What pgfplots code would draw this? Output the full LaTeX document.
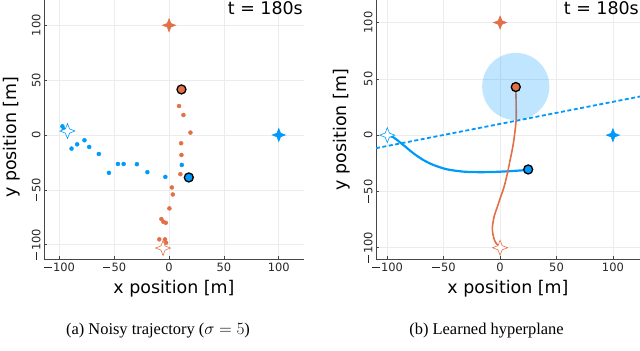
\documentclass[border=0pt]{standalone}
\usepackage{fontspec}
\setmainfont{DejaVu Sans}
\newfontfamily\capfont{Liberation Serif}
\usepackage{pgfplots}
\pgfplotsset{compat=1.18}

\definecolor{jblue}{RGB}{0,154,250}
\definecolor{jorange}{RGB}{227,111,71}
\definecolor{gridgray}{RGB}{236,236,236}
\definecolor{axgray}{RGB}{70,70,70}

% long minus drawn as a rule, so it does not depend on the font
\newcommand{\tmin}{\mbox{\hspace{0.06em}\rule[0.31em]{0.64em}{0.08em}\hspace{0.12em}}}

% four-pointed star (filled or hollow through fill colour)
\pgfdeclareplotmark{star4}{%
  \pgfpathmoveto{\pgfpoint{0pt}{\pgfplotmarksize}}%
  \pgfpathlineto{\pgfpoint{0.28\pgfplotmarksize}{0.28\pgfplotmarksize}}%
  \pgfpathlineto{\pgfpoint{\pgfplotmarksize}{0pt}}%
  \pgfpathlineto{\pgfpoint{0.28\pgfplotmarksize}{-0.28\pgfplotmarksize}}%
  \pgfpathlineto{\pgfpoint{0pt}{-\pgfplotmarksize}}%
  \pgfpathlineto{\pgfpoint{-0.28\pgfplotmarksize}{-0.28\pgfplotmarksize}}%
  \pgfpathlineto{\pgfpoint{-\pgfplotmarksize}{0pt}}%
  \pgfpathlineto{\pgfpoint{-0.28\pgfplotmarksize}{0.28\pgfplotmarksize}}%
  \pgfpathclose
  \pgfusepathqfillstroke}
% plain filled disc, no outline
\pgfdeclareplotmark{disc}{%
  \pgfpathcircle{\pgfpointorigin}{\pgfplotmarksize}%
  \pgfusepathqfill}

\pgfplotsset{
  trajplot/.style={
    scale only axis, height=259bp,
    axis lines*=left,
    axis line style={axgray, line width=0.8bp},
    grid=major, major grid style={gridgray, line width=0.6bp},
    xtick={-100,-50,0,50,100}, ytick={-100,-50,0,50,100},
    xticklabels={{\tmin 100},{\tmin 50},0,50,100},
    yticklabels={{\tmin 100},{\tmin 50},0,50,100},
    tick style={axgray, line width=0.6bp}, major tick length=3bp, tick align=inside,
    ticklabel style={font=\fontsize{11.5}{12}\selectfont, text=black!85},
    yticklabel style={rotate=90, anchor=south},
    label style={font=\fontsize{17.5}{18}\selectfont},
    xlabel={x position [m]}, ylabel={y position [m]},
    xlabel style={at={(axis description cs:0.5,-0.116)}, anchor=center},
    clip=true,
  },
  obs/.style={only marks, mark=*, mark size=2bp, mark options={draw=#1, fill=#1}},
  agent/.style={only marks, mark=*, mark size=4.5bp, mark options={draw=black, fill=#1, line width=1.3bp}},
  goal/.style={only marks, mark=star4, mark size=6.5bp, mark options={draw=#1, fill=#1, line width=0.6bp}},
  start/.style={only marks, mark=star4, mark size=7.5bp, mark options={draw=#1, fill=white, line width=0.6bp}},
}

\begin{document}
\begin{tikzpicture}
\useasboundingbox (0,0) rectangle (640bp,351bp);

% (a) noisy trajectory
\begin{axis}[trajplot, width=260bp, at={(44bp,92bp)}, anchor=south west,
  xmin=-114, xmax=123, ymin=-113, ymax=123,
  ylabel style={at={(axis description cs:-0.123,0.47)}, anchor=center}]
\addplot[obs=jblue] coordinates {
  (-97.2,7.9)(-96,5.2)(-88.9,-12.4)(-83.8,-8.5)(-77.1,-4.8)(-72.8,-10.9)
  (-64,-17.3)(-54.8,-34.5)(-46.6,-26.4)(-41.4,-26.4)(-29.3,-26.6)
  (-19.8,-33.9)(-3.4,-38.2)(11.6,-27.3)};
\addplot[obs=jorange] coordinates {
  (9.1,26.4)(13.1,18.2)(19.5,2.2)(11,-7.5)(11.3,-18.2)(10.3,-35.7)
  (2.5,-47.8)(3.4,-54.2)(0.3,-66.9)(-7,-76.6)(-5.2,-79.1)(-3,-80)
  (-8.9,-95.1)(-3.7,-95.1)(-2.7,-98.2)};
\addplot[start=jblue] coordinates {(-92.6,3.6)};
\addplot[start=jorange] coordinates {(-5.5,-103)};
\addplot[goal=jorange] coordinates {(0,100)};
\addplot[goal=jblue] coordinates {(100,0)};
\addplot[agent=jorange] coordinates {(11.3,41.5)};
\addplot[agent=jblue] coordinates {(18,-38.7)};
\node[anchor=north east, inner sep=1bp, font=\fontsize{17.5}{18}\selectfont]
  at (rel axis cs:1,1) {t = 180s};
\end{axis}

% (b) learned hyperplane
\begin{axis}[trajplot, width=264bp, at={(376bp,92bp)}, anchor=south west,
  xmin=-110, xmax=124, ymin=-110, ymax=120,
  ylabel style={at={(axis description cs:-0.129,0.5)}, anchor=center}]
\addplot[jblue, line width=1.8bp, dash pattern=on 4bp off 2.5bp] coordinates {
  (-110,-11.6)(124,34.3)};
\addplot[jblue, line width=2.2bp, smooth] coordinates {
  (-100,0)(-94.8,-1.8)(-86,-8.6)(-77,-16)(-68.2,-22)(-59.3,-26.4)
  (-47.4,-30.3)(-32.6,-32.4)(-17.8,-32.9)(-3,-32.6)(11.9,-31.8)(24.9,-30.9)};
\addplot[jorange, line width=1.6bp, smooth] coordinates {
  (0,-100)(-4.4,-94.6)(-6.5,-87.2)(-6.8,-81.3)(-5.3,-72.4)(-2.4,-63.5)
  (0.6,-54.6)(3.6,-45.7)(6.5,-33.8)(8.9,-22)(11.3,-10.1)(13,1.8)
  (14.2,13.6)(14.2,28)(13.9,42.7)};
\addplot[only marks, mark=disc, mark size=33.6bp,
  mark options={fill=jblue, fill opacity=0.25}] coordinates {(13.9,43.2)};
\addplot[start=jblue] coordinates {(-100,0)};
\addplot[start=jorange] coordinates {(0,-100)};
\addplot[goal=jorange] coordinates {(0,100)};
\addplot[goal=jblue] coordinates {(100,0)};
\addplot[agent=jorange] coordinates {(13.9,42.7)};
\addplot[agent=jblue] coordinates {(24.9,-30.5)};
\node[anchor=north east, inner sep=1bp, font=\fontsize{17.5}{18}\selectfont]
  at (rel axis cs:1,1) {t = 180s};
\end{axis}

\node[font=\capfont\fontsize{16.5}{18}\selectfont] at (158bp,20bp)
  {(a) Noisy trajectory ($\sigma = 5$)};
\node[font=\capfont\fontsize{16.5}{18}\selectfont] at (486.5bp,20bp)
  {(b) Learned hyperplane};
\end{tikzpicture}
\end{document}
